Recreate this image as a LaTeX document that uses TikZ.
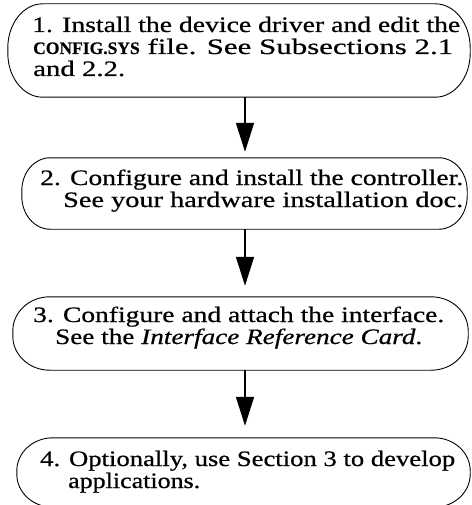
\documentclass[tikz,border=0pt]{standalone}
\usepackage{graphicx}
\usepackage{fontspec}
\setmainfont{Liberation Serif}[FakeStretch=1.2, FakeBold=0.6]
\usetikzlibrary{arrows.meta}
\tikzset{
  txt/.style={anchor=base west, inner sep=0pt, text height=15pt, text depth=4pt,
    font=\fontsize{22}{22}\selectfont},
  boxshape/.style={draw=none, inner sep=0pt},
  outline/.style={line width=0.9pt},
  arr/.style={line width=1.5pt, -{Triangle[width=18pt,length=29pt]}},
}
\newcommand{\cfg}{\fontsize{17.5}{18}\selectfont\bfseries}
\newcommand{\fitw}[2]{\resizebox{#1}{\height}{#2}}
% #1 node, #2 rx, #3 ry (pt)
\newcommand{\stadium}[3]{%
  \draw[outline] ([xshift=#2pt]#1.north west) -- ([xshift=-#2pt]#1.north east)
    arc[start angle=90,end angle=0,x radius=#2pt,y radius=#3pt]
    -- ([yshift=#3pt]#1.south east)
    arc[start angle=0,end angle=-90,x radius=#2pt,y radius=#3pt]
    -- ([xshift=#2pt]#1.south west)
    arc[start angle=270,end angle=180,x radius=#2pt,y radius=#3pt]
    -- ([yshift=-#3pt]#1.north west)
    arc[start angle=180,end angle=90,x radius=#2pt,y radius=#3pt] -- cycle;}
\begin{document}
\begin{tikzpicture}[x=1pt,y=-1pt]
\useasboundingbox (0,0) rectangle (471,505);
% boxes
\node[boxshape, minimum width=462pt, minimum height=93pt] (b1) at (239,50.5) {};
\node[boxshape, minimum width=445pt, minimum height=71pt] (b2) at (244.5,193.5) {};
\node[boxshape, minimum width=455pt, minimum height=73pt] (b3) at (240.5,333.5) {};
\node[boxshape, minimum width=453pt, minimum height=69pt] (b4) at (243.5,472.5) {};
\stadium{b1}{35}{44}
\stadium{b2}{28}{33}
\stadium{b3}{37}{34}
\stadium{b4}{36}{33}
% texts
\node[txt] (t1a) at (32,32) {\fitw{428pt}{1. Install the device driver and edit the}};
\node[txt] (t1b) at (33,54) {\fitw{420pt}{\fitw{91pt}{\cfg CONFIG.SYS} file. See Subsections 2.1}};
\node[txt] (t1c) at (33,76) {\fitw{92pt}{and 2.2.}};
\node[txt] (t2a) at (40,185) {\fitw{423pt}{2. Configure and install the controller.}};
\node[txt] (t2b) at (63,207) {\fitw{400pt}{See your hardware installation doc.}};
\node[txt] (t3a) at (33,322) {\fitw{411pt}{3. Configure and attach the interface.}};
\node[txt] (t3b) at (55,344) {\fitw{367pt}{See the \textit{Interface Reference Card}.}};
\node[txt] (t4a) at (40,466) {\fitw{415pt}{4. Optionally, use Section 3 to develop}};
\node[txt] (t4b) at (68,488) {\fitw{132pt}{applications.}};
% arrows
\coordinate (ax) at (245,0);
\draw[arr, shorten >=6pt] (b1.south -| ax) -- (b2.north -| ax);
\draw[arr, shorten >=11pt] (b2.south -| ax) -- (b3.north -| ax);
\draw[arr, shorten >=12pt] (b3.south -| ax) -- (b4.north -| ax);
\end{tikzpicture}
\end{document}
